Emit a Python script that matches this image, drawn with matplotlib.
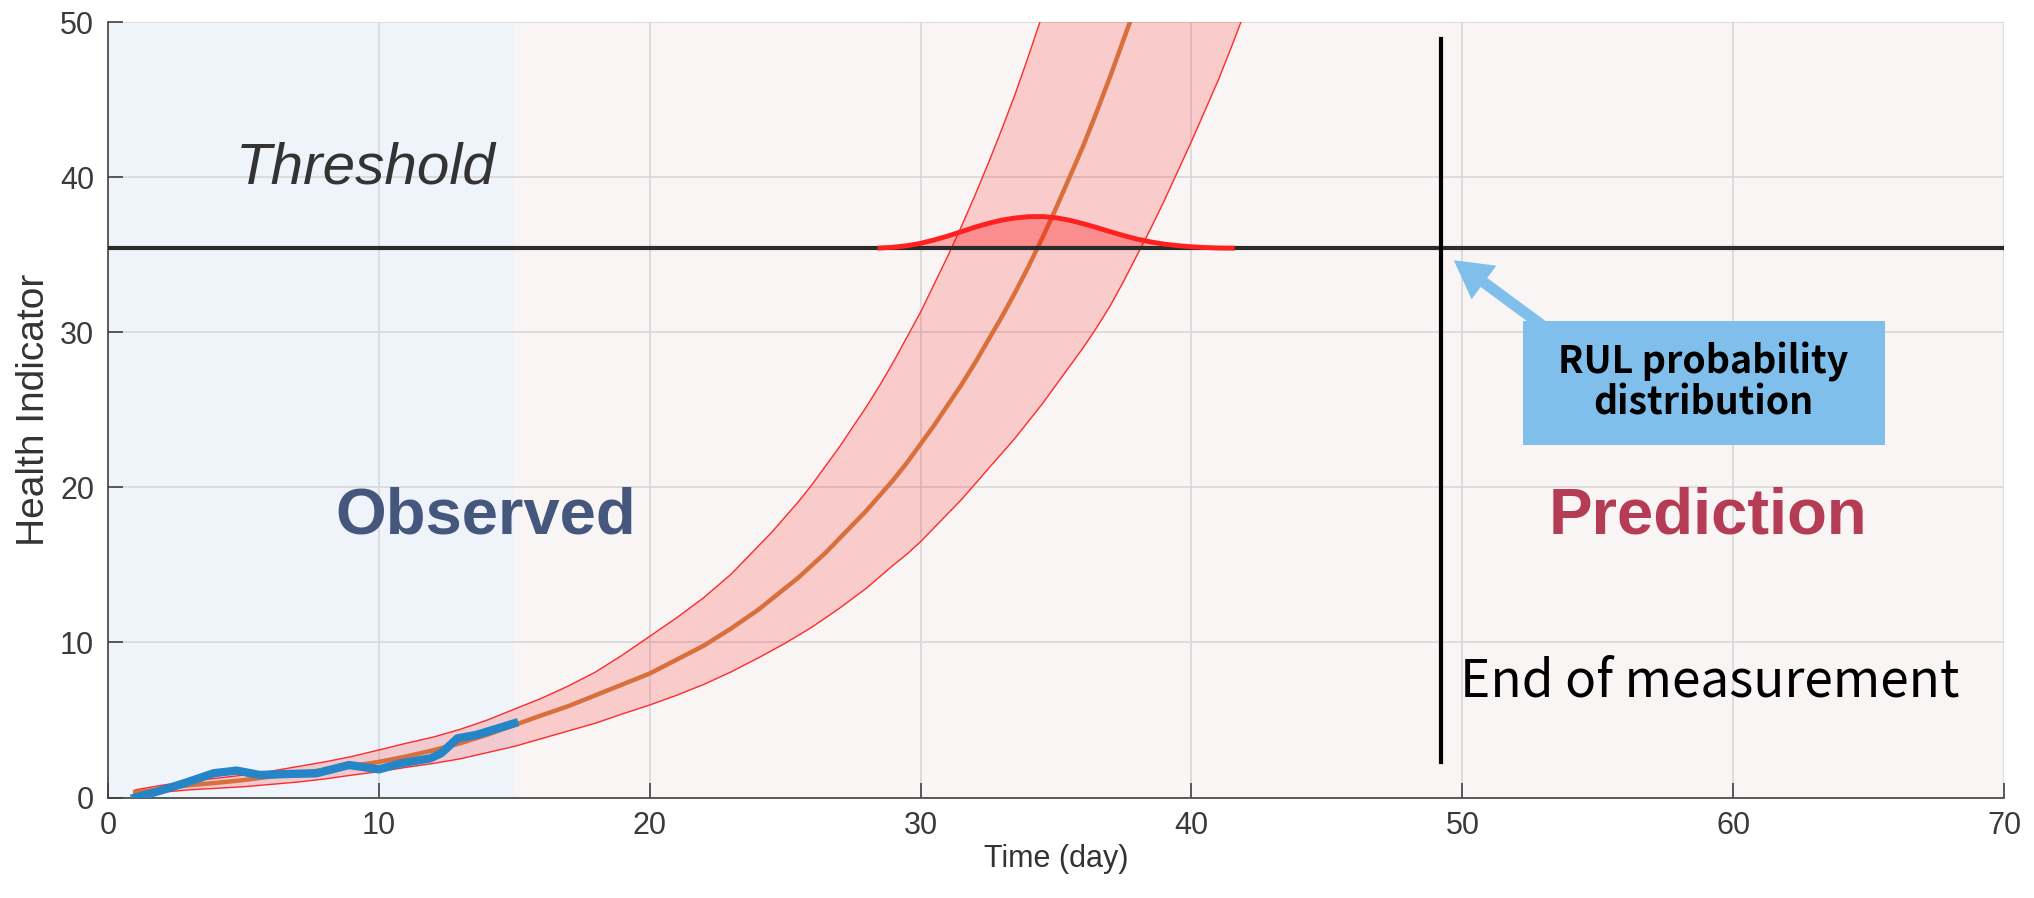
import numpy as np
import matplotlib
matplotlib.use('Agg')
import matplotlib.pyplot as plt
from matplotlib.patches import Rectangle, FancyArrowPatch

plt.rcParams.update({'font.family': 'Liberation Sans', 'axes.linewidth': 1.2})

### observed health indicator (blue)
obs_day = [1.0, 1.8, 2.8, 3.9, 4.75, 5.6, 6.6, 7.7, 8.9, 10.0, 10.8, 11.9, 12.3, 12.9, 13.6, 15.0]
obs_hi = [0.0, 0.38, 0.92, 1.57, 1.74, 1.46, 1.52, 1.57, 2.10, 1.82, 2.21, 2.53, 2.86, 3.82, 4.04, 4.79]

### predicted mean (orange)
mean_day = list(range(1, 25)) + list(np.arange(24.5, 38.01, 0.5))
pred_mean = [0.35, 0.55, 0.8, 0.95, 1.13, 1.35, 1.55, 1.8, 2.05, 2.3, 2.65, 3.05, 3.5, 4.05, 4.68,
             5.3, 5.9, 6.6, 7.3, 8.0, 8.9, 9.8, 10.9, 12.1,
             12.8, 13.5, 14.2, 15.0, 15.8, 16.7, 17.6, 18.5, 19.5, 20.5, 21.6, 22.8, 24.0, 25.3,
             26.6, 28.0, 29.5, 31.0, 32.6, 34.3, 36.1, 38.0, 40.0, 42.0, 44.2, 46.5, 48.9, 51.3]

### upper / lower bound of the band
upper_day = list(range(1, 25)) + list(np.arange(24.5, 35.01, 0.5))
pred_upper = [0.5, 0.8, 1.05, 1.25, 1.45, 1.7, 2.0, 2.3, 2.65, 3.07, 3.5, 3.9, 4.4, 5.0, 5.7,
              6.4, 7.2, 8.1, 9.2, 10.4, 11.6, 12.9, 14.4, 16.2,
              17.1, 18.1, 19.1, 20.2, 21.4, 22.6, 23.9, 25.2, 26.6, 28.1, 29.7, 31.3, 33.1, 34.9,
              36.8, 38.8, 40.9, 43.1, 45.4, 47.9, 50.5, 53.2]
lower_day = list(range(1, 30)) + list(np.arange(29.5, 42.01, 0.5))
pred_lower = [0.2, 0.35, 0.5, 0.6, 0.7, 0.85, 1.0, 1.2, 1.45, 1.67, 1.95, 2.2, 2.5, 2.9, 3.3,
              3.8, 4.3, 4.8, 5.4, 5.97, 6.6, 7.3, 8.1, 9.0, 9.95, 11.0, 12.2, 13.5, 15.0,
              15.7, 16.5, 17.4, 18.3, 19.2, 20.2, 21.2, 22.2, 23.2, 24.3, 25.4, 26.6, 27.8, 29.0,
              30.3, 31.7, 33.3, 35.0, 36.7, 38.5, 40.4, 42.3, 44.3, 46.3, 48.5, 50.8]

### RUL pdf on top of the threshold
threshold = 35.4
pdf_day = [28.5, 29.0, 29.5, 30.0, 30.5, 31.0, 31.5, 32.0, 32.5, 33.0, 33.5, 34.0, 34.5, 35.0,
           35.5, 36.0, 36.5, 37.0, 37.5, 38.0, 38.5, 39.0, 39.5, 40.0, 40.5, 41.0, 41.5]
pdf_height = [0.03, 0.08, 0.18, 0.33, 0.55, 0.8, 1.08, 1.37, 1.62, 1.83, 1.97, 2.05, 2.06, 1.98,
              1.82, 1.6, 1.35, 1.08, 0.83, 0.6, 0.42, 0.28, 0.18, 0.11, 0.06, 0.03, 0.02]

end_day = 49.2
obs_end = 15

fig = plt.figure(figsize=(20.34, 8.98), dpi=100)
ax = fig.add_axes([0.0531, 0.1118, 0.9322, 0.8637])

ax.axvspan(0, obs_end, color='#eff4fb', zorder=0, lw=0)
ax.axvspan(obs_end, 70, color='#f8f5f4', zorder=0, lw=0)

# band
ax.fill(np.concatenate([upper_day, lower_day[::-1]]), np.concatenate([pred_upper, pred_lower[::-1]]),
        color='#ff0000', alpha=0.17, lw=0, zorder=2)
ax.plot(upper_day, pred_upper, color='#ff2a2a', lw=1.0, zorder=3)
ax.plot(lower_day, pred_lower, color='#ff2a2a', lw=1.0, zorder=3)
ax.plot(mean_day, pred_mean, color='#d9703c', lw=3.2, zorder=4)

# threshold + pdf
ax.axhline(threshold, color='#2b2b2b', lw=3, zorder=5)
pdf_y = threshold + np.array(pdf_height)
ax.fill_between(pdf_day, threshold, pdf_y, color='#ff0000', alpha=0.3, lw=0, zorder=4)
ax.plot(pdf_day, pdf_y, color='#ff2020', lw=3.5, zorder=6)

ax.plot(obs_day, obs_hi, color='#2585c7', lw=6, solid_joinstyle='round', zorder=7)

# end of measurement
ax.plot([end_day, end_day], [2.3, 48.9], color='black', lw=3, zorder=8)
ax.text(49.9, 7.5, 'End of measurement', family=['Noto Sans CJK JP', 'DejaVu Sans'],
        fontsize=37, va='center', ha='left', color='black', zorder=9)

# RUL callout
arrow = FancyArrowPatch((53.6, 29.6), (49.6, 34.75),
                        arrowstyle='simple,head_length=27,head_width=30,tail_width=8',
                        mutation_scale=1, color='#80bfec', lw=0, zorder=9)
ax.add_patch(arrow)
ax.add_patch(Rectangle((52.23, 22.73), 65.6 - 52.23, 30.73 - 22.73, facecolor='#80bfec',
                       edgecolor='none', zorder=10))
ax.text(58.9, 26.8, 'RUL probability\ndistribution', family=['Noto Sans CJK JP', 'DejaVu Sans'],
        fontweight='bold', fontsize=27, ha='center', va='center', linespacing=1.05, zorder=11)

ax.text(13.95, 18.1, 'Observed', fontsize=47, fontweight='bold', color='#45577d',
        ha='center', va='center', zorder=9)
ax.text(59.05, 18.1, 'Prediction', fontsize=47, fontweight='bold', color='#b43c55',
        ha='center', va='center', zorder=9)
ax.text(9.53, 40.55, 'Threshold', fontsize=42, style='italic', color='#333333',
        ha='center', va='center', zorder=9)

ax.set_xlim(0, 70)
ax.set_ylim(0, 50)
ax.set_xticks(range(0, 71, 10))
ax.set_yticks(range(0, 51, 10))
ax.grid(True, color='#d8d8d8', lw=1.2, zorder=1)
ax.set_axisbelow(True)
ax.tick_params(direction='in', length=11, width=1.2, labelsize=22, colors='#404040',
               labelcolor='#3a3a3a', pad=10)
for s in ['top', 'right']:
    ax.spines[s].set_visible(False)
for s in ['left', 'bottom']:
    ax.spines[s].set_color('#404040')

ax.set_xlabel('Time (day)', fontsize=22, color='#333333', labelpad=2)
ax.set_ylabel('Health Indicator', fontsize=28, color='#333333', labelpad=6)

fig.savefig('out.png', dpi=100)
